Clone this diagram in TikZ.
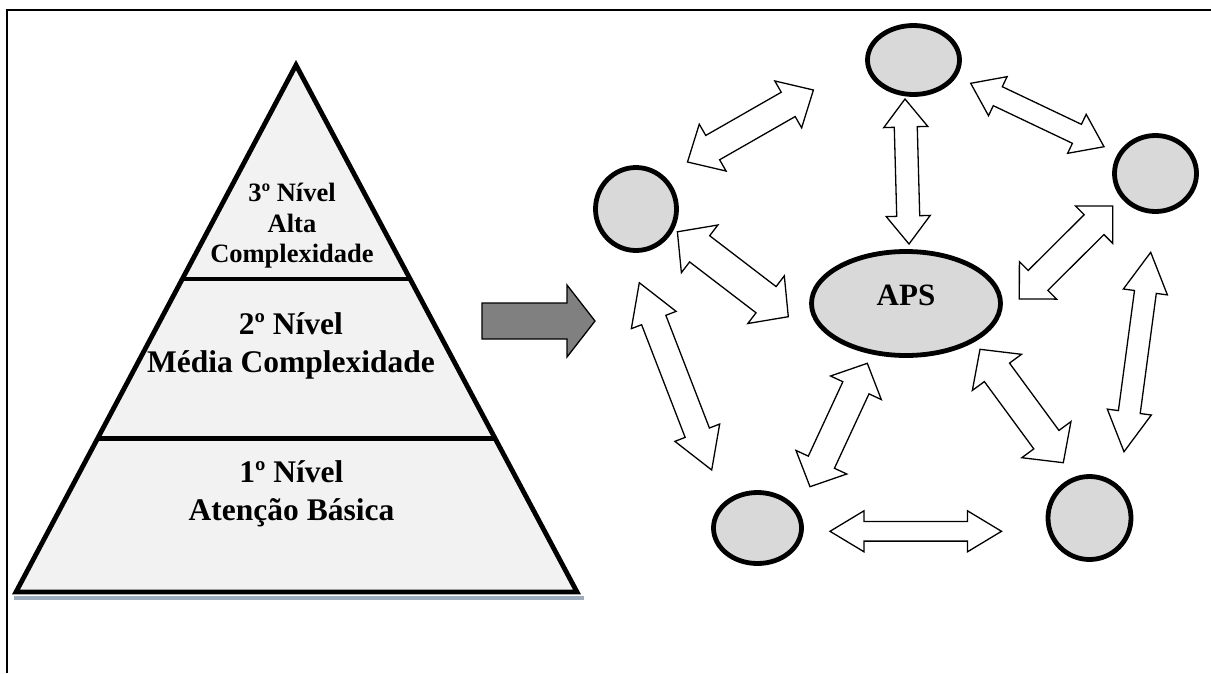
\documentclass[tikz,border=0pt]{standalone}
\usepackage{fontspec}
\setmainfont{Liberation Serif}
\usetikzlibrary{shapes,arrows,calc}
\definecolor{piramide}{HTML}{F2F2F2}
\definecolor{bolinha}{HTML}{D9D9D9}
\definecolor{setacinza}{HTML}{808080}
\definecolor{sombra}{HTML}{9DABBF}
\tikzset{
    esfera/.style={
           ellipse,
           draw=black, line width=4.8pt,
           fill=bolinha,
           inner sep=0pt
           },
    nivel/.style={
           align=center,
           inner sep=0pt
           },
    bloco/.style={
           draw=black, line width=1.3pt,
           fill=white, line join=miter
           },
    traco/.style={
           draw=black, line width=4.8pt
           }
}
% #1,#2 pontas; #3 comprimento da cabeca; #4,#5 meias larguras (cabeca, haste)
\newcommand{\dupla}[5]{%
  \draw[bloco] let \p1=($(#2)-(#1)$), \n1={atan2(\y1,\x1)} in
    (#1) -- ($(#1)+(\n1:#3)+(\n1+90:#4)$) -- ($(#1)+(\n1:#3)+(\n1+90:#5)$)
    -- ($(#2)+(\n1:-#3)+(\n1+90:#5)$) -- ($(#2)+(\n1:-#3)+(\n1+90:#4)$)
    -- (#2) -- ($(#2)+(\n1:-#3)+(\n1-90:#4)$) -- ($(#2)+(\n1:-#3)+(\n1-90:#5)$)
    -- ($(#1)+(\n1:#3)+(\n1-90:#5)$) -- ($(#1)+(\n1:#3)+(\n1-90:#4)$) -- cycle;}
\newcommand{\simples}[5]{%
  \draw[bloco, fill=setacinza] let \p1=($(#2)-(#1)$), \n1={atan2(\y1,\x1)} in
    ($(#1)+(\n1+90:#5)$) -- ($(#2)+(\n1:-#3)+(\n1+90:#5)$) -- ($(#2)+(\n1:-#3)+(\n1+90:#4)$)
    -- (#2) -- ($(#2)+(\n1:-#3)+(\n1-90:#4)$) -- ($(#2)+(\n1:-#3)+(\n1-90:#5)$)
    -- ($(#1)+(\n1-90:#5)$) -- cycle;}

\begin{document}
\begin{tikzpicture}[x=1pt, y=-1pt]
   \useasboundingbox (0,0) rectangle (1211,673);
   \draw[line width=2pt] (7,673) -- (7,10) -- (1211,10);

   % piramide
   \coordinate (apice) at (296,65);
   \coordinate (besq) at (16,592);
   \coordinate (bdir) at (577,592);
   \draw[sombra, line width=4pt] (14,598) -- (584,598);
   \draw[traco, fill=piramide] (apice) -- (bdir) -- (besq) -- cycle;
   \draw[traco] ($(apice)!0.406!(besq)$) -- ($(apice)!0.406!(bdir)$);
   \draw[traco] ($(apice)!0.709!(besq)$) -- ($(apice)!0.709!(bdir)$);
   \node[nivel, font=\fontsize{26.5}{30.5}\selectfont\bfseries] (n3) at (292,226) {3º Nível\\Alta\\Complexidade};
   \node[nivel, font=\fontsize{31.5}{38.5}\selectfont\bfseries] (n2) at (291,346) {2º Nível\\Média Complexidade};
   \node[nivel, font=\fontsize{31.5}{38.5}\selectfont\bfseries] (n1) at (291.5,494) {1º Nível\\Atenção Básica};

   \coordinate (cauda) at (482,321);
   \coordinate (ponta) at (595,321);
   \simples{cauda}{ponta}{28pt}{36pt}{18pt}

   % rede
   \node[esfera, minimum width=92pt, minimum height=69pt] (topo) at (913.5,60) {};
   \node[esfera, minimum width=81pt, minimum height=83pt] (esq) at (636,209) {};
   \node[esfera, minimum width=82pt, minimum height=76pt] (dir) at (1155.5,173.5) {};
   \node[esfera, minimum width=189pt, minimum height=104pt, text depth=17pt,
         font=\fontsize{31}{37}\selectfont\bfseries] (aps) at (906,303.5) {APS};
   \node[esfera, minimum width=88pt, minimum height=71pt] (infesq) at (757.5,528) {};
   \node[esfera, minimum width=83pt, minimum height=83pt] (infdir) at (1089.5,518) {};

   \coordinate (et1) at (687.5,162);    \coordinate (et2) at (813.4,90);
   \coordinate (ta1) at (905,99);       \coordinate (ta2) at (909,244);
   \coordinate (td1) at (970.7,83.3);   \coordinate (td2) at (1104,146.7);
   \coordinate (ea1) at (677.4,231.8);  \coordinate (ea2) at (788.3,316.7);
   \coordinate (ei1) at (639.3,282.7);  \coordinate (ei2) at (711.7,470);
   \coordinate (ia1) at (867.3,363.3);  \coordinate (ia2) at (810,486.7);
   \coordinate (ii1) at (830,531.3);    \coordinate (ii2) at (1001.5,531.3);
   \coordinate (ad1) at (980,349.3);    \coordinate (ad2) at (1063.3,462.7);
   \coordinate (dd1) at (1150.7,252.3); \coordinate (dd2) at (1124,451.7);
   \coordinate (da1) at (1019.3,299);   \coordinate (da2) at (1112.8,206);

   \dupla{et1}{et2}{29pt}{27pt}{14pt}
   \dupla{ta1}{ta2}{28pt}{22pt}{11.5pt}
   \dupla{td1}{td2}{30pt}{21.6pt}{10.5pt}
   \dupla{ea1}{ea2}{28pt}{30pt}{16.5pt}
   \dupla{ei1}{ei2}{40pt}{24pt}{13pt}
   \dupla{ia1}{ia2}{27pt}{28pt}{14.4pt}
   \dupla{ii1}{ii2}{34pt}{20.5pt}{9.8pt}
   \dupla{ad1}{ad2}{28.6pt}{30.5pt}{15.6pt}
   \dupla{dd1}{dd2}{40pt}{22.2pt}{11pt}
   \dupla{da1}{da2}{26.4pt}{26.4pt}{14pt}
\end{tikzpicture}
\end{document}
